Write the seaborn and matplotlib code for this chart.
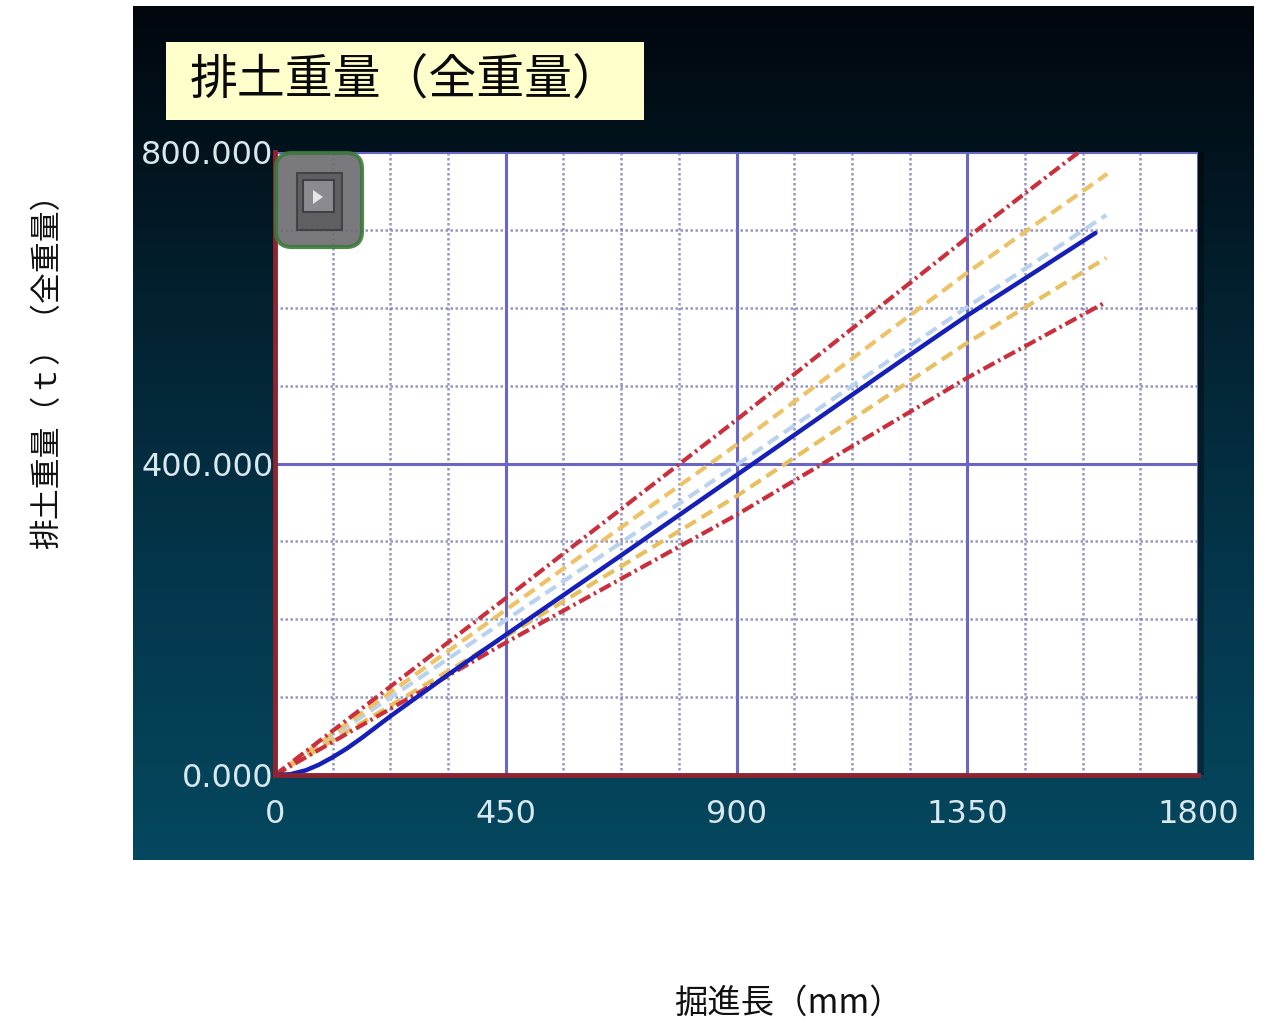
import numpy as np
import pandas as pd
import matplotlib
matplotlib.use('Agg')
import matplotlib.pyplot as plt
from matplotlib.colors import LinearSegmentedColormap
from matplotlib.patches import FancyBboxPatch, Rectangle, Polygon
import seaborn as sns

sns.set_theme(style='white')
plt.rcParams['font.family'] = ['Noto Sans CJK JP', 'DejaVu Sans']

# 読み取り値
x_ticks = [0, 450, 900, 1350, 1800]
y_ticks = [0, 400, 800]
x_tick_labels = ['0', '450', '900', '1350', '1800']
y_tick_labels = ['0.000', '400.000', '800.000']

result_x = [0, 30, 60, 85, 113, 140, 170, 200, 224, 340, 450, 675, 900, 1125, 1230, 1350, 1480, 1600]
result_y = [0, 1, 6, 13, 23, 34, 48, 63, 75, 130, 180, 282, 385, 488, 536, 590, 645, 696]

upper_red_x = [0, 450, 900, 1350, 1572]
upper_red_y = [0, 227, 456, 690, 802]
upper_org_x = [0, 450, 900, 1350, 1623]
upper_org_y = [0, 212, 424, 645, 772]
plan_x = [0, 450, 900, 1350, 1621]
plan_y = [0, 199, 398, 601, 719]
lower_org_x = [0, 450, 900, 1350, 1621]
lower_org_y = [0, 178, 358, 555, 664]
lower_red_x = [0, 450, 900, 1350, 1617]
lower_red_y = [0, 170, 334, 510, 606]

title_text = '排土重量（全重量）'
x_label = '掘進長（mm）'
y_label = '排土重量（ｔ）（全重量）'

W, H = 1268, 1021
fig = plt.figure(figsize=(W / 100, H / 100), dpi=100, facecolor='white')

# 背景パネル（グラデーション）
bg = fig.add_axes([0, 0, 1, 1], zorder=0)
bg.axis('off')
grad = LinearSegmentedColormap.from_list('panel', ['#01060c', '#03202e', '#04364b', '#04485f'])
bg.imshow(np.linspace(0, 1, 256).reshape(-1, 1), cmap=grad, aspect='auto',
          extent=(133, 1254, 860, 7))
bg.add_patch(Rectangle((1198, 152), 6, 623, fc='black', ec='none', alpha=0.35))
bg.set_xlim(0, W)
bg.set_ylim(H, 0)

# プロット領域
ax = fig.add_axes([275 / W, 1 - 775 / H, (1198 - 275) / W, (775 - 152) / H], zorder=2)
ax.set_facecolor('white')
ax.set_xlim(0, 1800)
ax.set_ylim(0, 800)

ax.set_xticks(x_ticks)
ax.set_xticklabels(x_tick_labels, color='#d8e8ee', fontsize=23, family='DejaVu Sans')
ax.set_yticks(y_ticks)
ax.set_yticklabels(y_tick_labels, color='#d8e8ee', fontsize=23, family='DejaVu Sans')
ax.tick_params(axis='y', length=0, pad=1)
ax.tick_params(axis='x', length=0, pad=17)
ax.set_xticks(np.arange(0, 1801, 112.5), minor=True)
ax.set_yticks(np.arange(0, 801, 100), minor=True)
ax.tick_params(axis='both', which='minor', length=0)
ax.grid(True, which='minor', color='#7474b4', lw=1.8, ls=(0, (1, 1)), alpha=0.75)
ax.grid(True, which='major', color='#6a66c8', lw=2.2, ls='-')
ax.set_axisbelow(True)

for name in ['top', 'right']:
    ax.spines[name].set_visible(False)
for name in ['left', 'bottom']:
    ax.spines[name].set_color('#8f2430')
    ax.spines[name].set_linewidth(3.5)

dashdot = (0, (3, 1, 0.6, 1))
dashed = (0, (3, 1.6))
series = [
    (plan_x, plan_y, '#b9d3ee', dashed, 3.0),
    (upper_org_x, upper_org_y, '#eec266', dashed, 3.0),
    (lower_org_x, lower_org_y, '#e8c060', dashed, 3.0),
    (upper_red_x, upper_red_y, '#c9303c', dashdot, 3.0),
    (lower_red_x, lower_red_y, '#c9303c', dashdot, 3.0),
    (result_x, result_y, '#1620b8', '-', 3.2),
]
for xs, ys, col, ls, lw in series:
    df = pd.DataFrame({'x': xs, 'y': ys})
    sns.lineplot(data=df, x='x', y='y', color=col, linestyle=ls, linewidth=lw,
                 ax=ax, errorbar=None, sort=False, clip_on=False)
ax.set_xlabel('')
ax.set_ylabel('')

# 上に重ねる部品（ピクセル座標）
ov = fig.add_axes([0, 0, 1, 1], zorder=5)
ov.set_xlim(0, W)
ov.set_ylim(H, 0)
ov.axis('off')
ov.patch.set_alpha(0)

ov.add_patch(Rectangle((166, 42), 478, 78, fc='#ffffcc', ec='none'))
ov.text(190, 80, title_text, fontsize=34.5, color='#0a0a0a', va='center', ha='left')

ov.add_patch(FancyBboxPatch((289, 166), 60, 68, boxstyle='round,pad=13,rounding_size=16',
                            fc='#6c6c70', ec='#3c7a3c', lw=3, alpha=0.9))
ov.add_patch(Rectangle((297, 173), 45, 57, fc='#5c5c62', ec='#3e3e44', lw=1.5, alpha=0.9))
ov.add_patch(Rectangle((303, 180), 31, 32, fc='#8a8a90', ec='#404046', lw=1.5))
ov.add_patch(Polygon([[313, 190], [323, 197], [313, 204]], closed=True, fc='#e6e6e6', ec='none'))

ov.text(48, 364, y_label, fontsize=22.2, color='#111111', rotation=90, va='center', ha='center')
ov.text(788, 1003, x_label, fontsize=24, color='#111111', va='center', ha='center')

fig.savefig('out.png', dpi=100)
plt.close(fig)
